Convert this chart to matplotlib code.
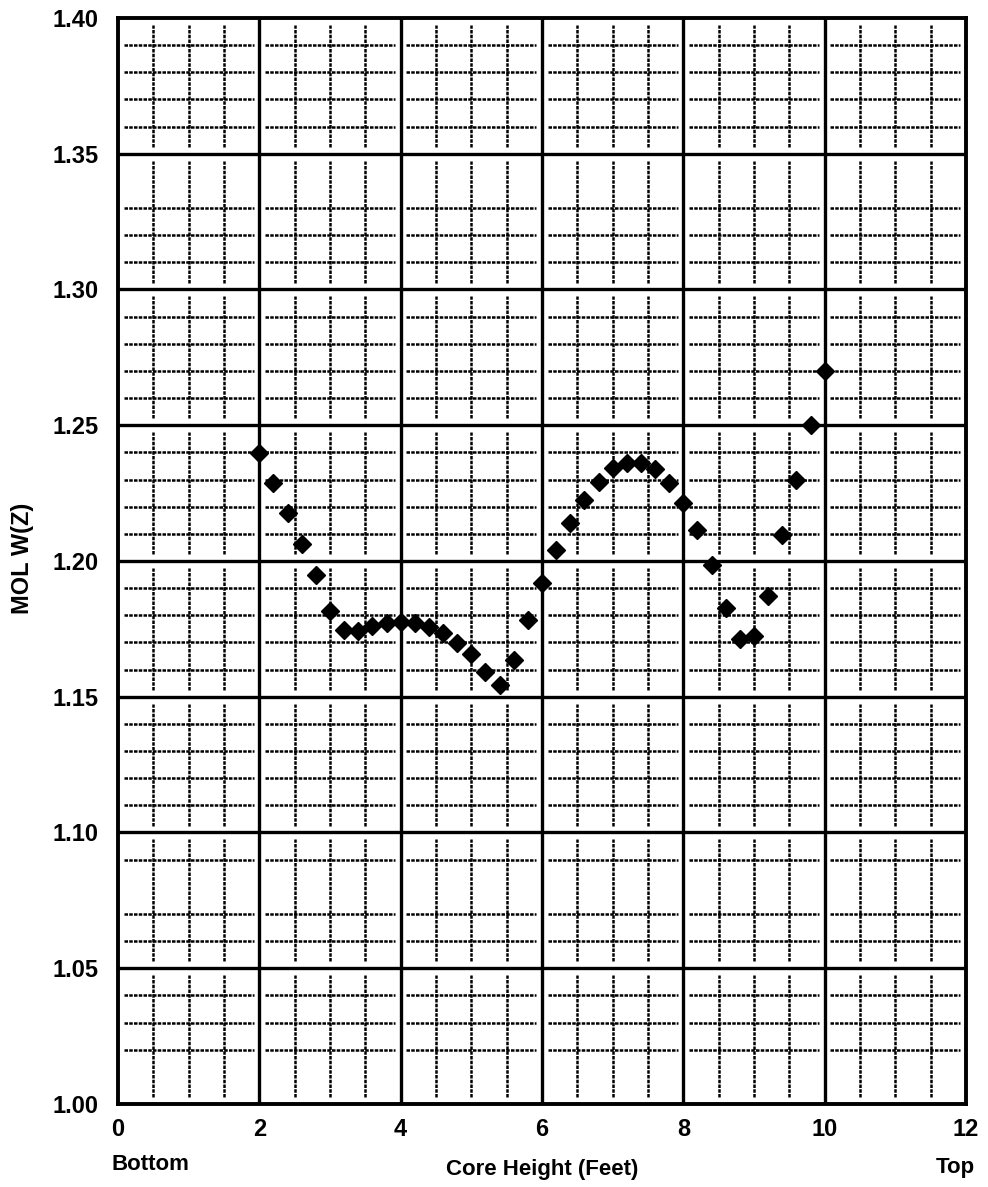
import matplotlib
matplotlib.use("Agg")
import matplotlib.pyplot as plt
import numpy as np

plt.rcParams['font.family'] = ['Liberation Sans', 'DejaVu Sans']

core_height = [2.0, 2.2, 2.4, 2.6, 2.8, 3.0, 3.2, 3.4, 3.6, 3.8, 4.0, 4.2, 4.4, 4.6,
               4.8, 5.0, 5.2, 5.4, 5.6, 5.8, 6.0, 6.2, 6.4, 6.6, 6.8, 7.0, 7.2, 7.4,
               7.6, 7.8, 8.0, 8.2, 8.4, 8.6, 8.8, 9.0, 9.2, 9.4, 9.6, 9.8, 10.0]
mol_wz = [1.2398, 1.2287, 1.2176, 1.2061, 1.1950, 1.1817, 1.1747, 1.1742, 1.1759,
          1.1772, 1.1775, 1.1772, 1.1757, 1.1736, 1.1698, 1.1658, 1.1593, 1.1545,
          1.1637, 1.1781, 1.1920, 1.2039, 1.2141, 1.2225, 1.2292, 1.2341, 1.2362,
          1.2362, 1.2340, 1.2289, 1.2214, 1.2113, 1.1984, 1.1828, 1.1714, 1.1722,
          1.1871, 1.2097, 1.2298, 1.2500, 1.2699]
x_ticks = [0, 2, 4, 6, 8, 10, 12]
y_ticks = [1.00, 1.05, 1.10, 1.15, 1.20, 1.25, 1.30, 1.35, 1.40]
x_minor = [0.5, 1.0, 1.5]  # offsets inside each 2-ft cell
y_minor = [1.39, 1.38, 1.37, 1.36, 1.33, 1.32, 1.31, 1.29, 1.28, 1.27, 1.26,
           1.24, 1.23, 1.22, 1.21, 1.19, 1.18, 1.17, 1.16, 1.14, 1.13, 1.12,
           1.11, 1.09, 1.07, 1.06, 1.04, 1.03, 1.02]

fig = plt.figure(figsize=(9.88, 11.87), dpi=100)
ax = fig.add_axes([118/988, 1-1104/1187, (966-118)/988, (1104-18)/1187])

ax.set_xlim(0, 12)
ax.set_ylim(1.0, 1.4)
ax.set_xticks(x_ticks)
ax.set_yticks(y_ticks)
ax.set_xticklabels([str(v) for v in x_ticks], fontsize=17, fontweight='bold')
ax.set_yticklabels([f"{v:.2f}" for v in y_ticks], fontsize=17, fontweight='bold')
ax.tick_params(axis='both', which='both', length=0)
ax.tick_params(axis='x', pad=10)
ax.tick_params(axis='y', pad=14)

dot = (0, (1.4, 0.5))
gx = 0.08
gy = 0.0025
# minor horizontal dotted lines, broken at the major verticals
for y in y_minor:
    for x0 in x_ticks[:-1]:
        ax.hlines(y, x0 + gx, x0 + 2 - gx, colors='black', linewidth=1.8,
                  linestyles=dot, zorder=1)
# minor vertical dotted lines, broken at the major horizontals
for x0 in x_ticks[:-1]:
    for dx in x_minor:
        for y0 in y_ticks[:-1]:
            ax.vlines(x0 + dx, y0 + gy, y0 + 0.05 - gy, colors='black',
                      linewidth=1.8, linestyles=dot, zorder=1)
# major solid grid
for x in x_ticks[1:-1]:
    ax.axvline(x, color='black', linewidth=2.4, zorder=2)
for y in y_ticks[1:-1]:
    ax.axhline(y, color='black', linewidth=2.4, zorder=2)
for s in ax.spines.values():
    s.set_linewidth(2.8)

ax.plot(core_height, mol_wz, linestyle='none', marker='D', markersize=9,
        color='black', zorder=5, clip_on=False)

fig.text(23/988, 1-558/1187, "MOL W(Z)", fontsize=17, fontweight='bold',
         ha='center', va='center', rotation=90)
fig.text(150/988, 1-1165/1187, "Bottom", fontsize=16, fontweight='bold',
         ha='center', va='center')
fig.text(542/988, 1-1170/1187, "Core Height (Feet)", fontsize=16, fontweight='bold',
         ha='center', va='center')
fig.text(955/988, 1-1168/1187, "Top", fontsize=16, fontweight='bold',
         ha='center', va='center')

fig.savefig("out.png", dpi=100)
